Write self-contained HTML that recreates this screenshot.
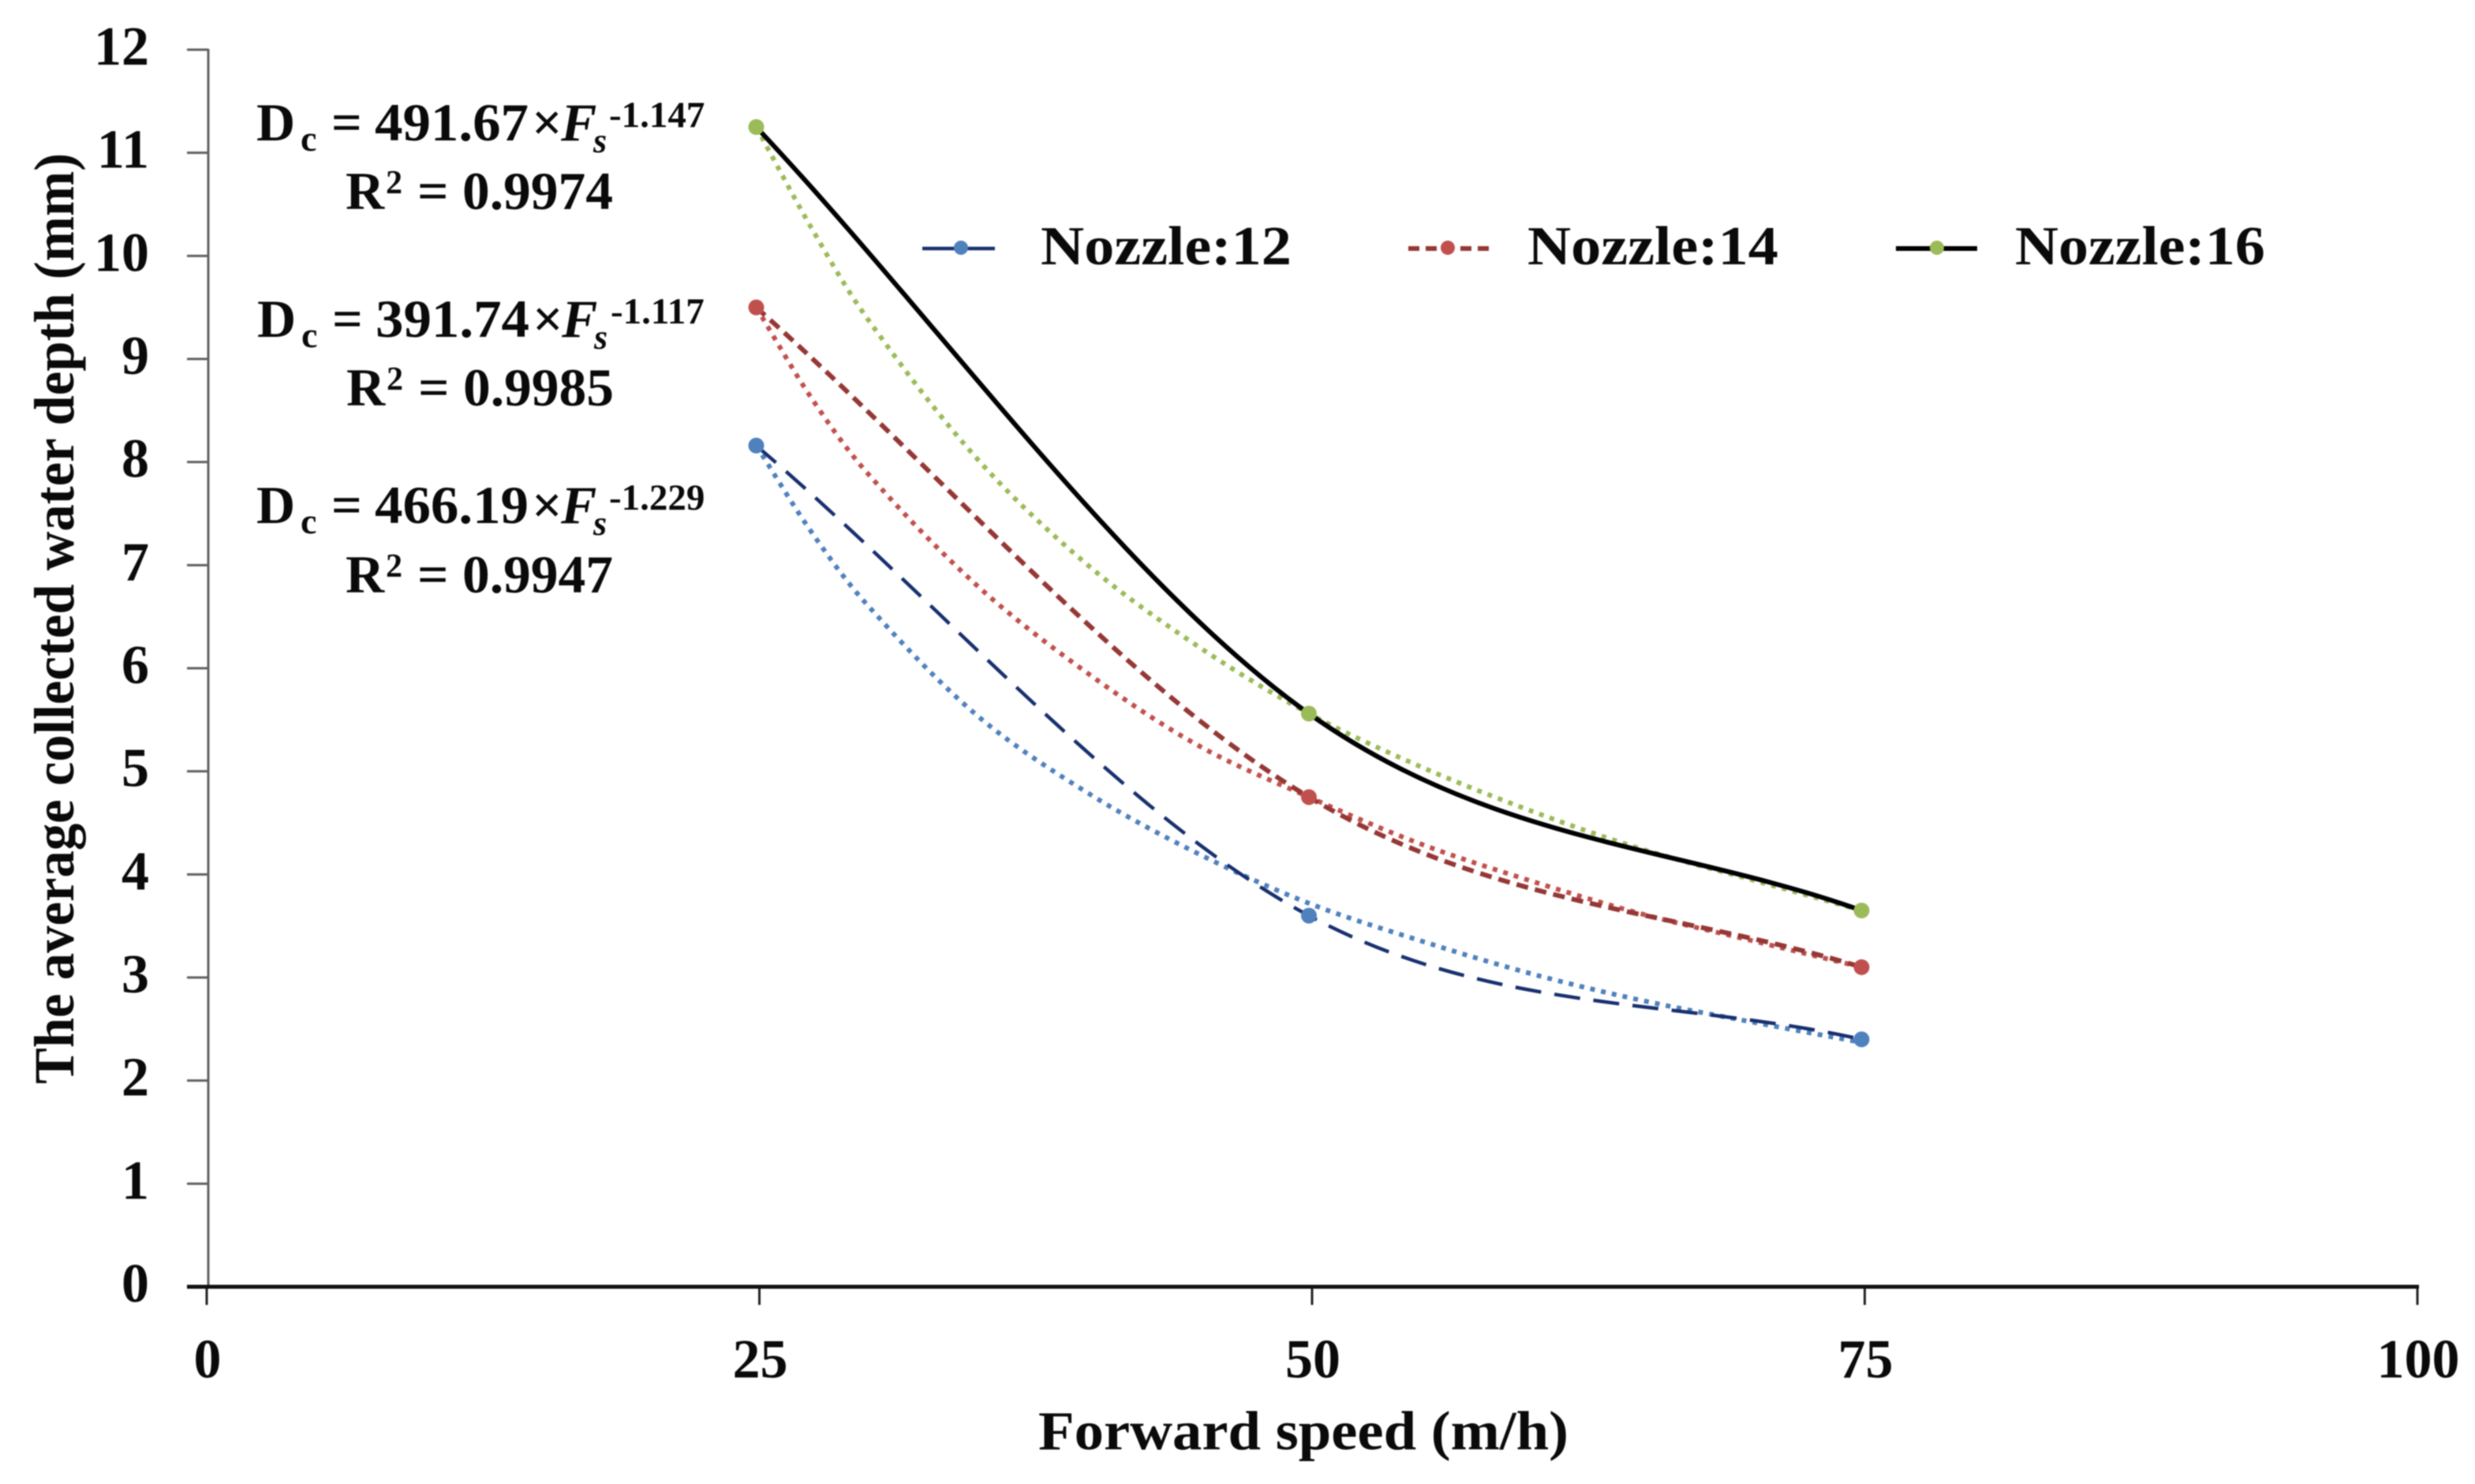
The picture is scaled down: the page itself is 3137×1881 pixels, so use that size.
<!DOCTYPE html>
<html lang="en">
<head>
<meta charset="utf-8">
<title>Average collected water depth vs forward speed</title>
<style>
html,body{margin:0;padding:0;background:#fff;}
svg{display:block;filter:blur(0.7px);}
text{font-family:"Liberation Serif",serif;font-weight:bold;fill:#0a0a0a;}
</style>
</head>
<body>
<svg id="chart" xmlns="http://www.w3.org/2000/svg" width="3137" height="1881" viewBox="0 0 3137 1881">
  <rect width="3137" height="1881" fill="#fff"/>
  <g id="axes"></g>
  <g id="trends"></g>
  <g id="lines"></g>
  <g id="markers"></g>

  <text transform="translate(93,1374) rotate(-90)" font-size="72" textLength="1180" lengthAdjust="spacingAndGlyphs">The average collected water depth (mm)</text>
  <text x="1316" y="1837" font-size="70" textLength="672" lengthAdjust="spacingAndGlyphs">Forward speed (m/h)</text>

  <g>
    <text font-size="68" y="178"><tspan x="325">D</tspan><tspan x="381" y="191" font-size="46">c</tspan><tspan x="420" y="178">=</tspan><tspan x="475" textLength="195" lengthAdjust="spacingAndGlyphs">491.67</tspan><tspan x="674">×</tspan><tspan x="711" font-style="italic">F</tspan><tspan x="752" y="193" font-size="44" font-style="italic">s</tspan><tspan x="772" y="161" font-size="47">-1.147</tspan></text>
    <text font-size="68" y="265"><tspan x="438">R</tspan><tspan x="489" y="245" font-size="42">2</tspan><tspan x="529" y="265" textLength="248" lengthAdjust="spacingAndGlyphs">= 0.9974</tspan></text>
  </g>
  <g>
    <text font-size="68" y="427"><tspan x="326">D</tspan><tspan x="382" y="440" font-size="46">c</tspan><tspan x="421" y="427">=</tspan><tspan x="476" textLength="195" lengthAdjust="spacingAndGlyphs">391.74</tspan><tspan x="675">×</tspan><tspan x="712" font-style="italic">F</tspan><tspan x="753" y="442" font-size="44" font-style="italic">s</tspan><tspan x="774" y="410" font-size="47">-1.117</tspan></text>
    <text font-size="68" y="514"><tspan x="439">R</tspan><tspan x="490" y="494" font-size="42">2</tspan><tspan x="530" y="514" textLength="248" lengthAdjust="spacingAndGlyphs">= 0.9985</tspan></text>
  </g>
  <g>
    <text font-size="68" y="663"><tspan x="325">D</tspan><tspan x="381" y="676" font-size="46">c</tspan><tspan x="420" y="663">=</tspan><tspan x="475" textLength="195" lengthAdjust="spacingAndGlyphs">466.19</tspan><tspan x="674">×</tspan><tspan x="711" font-style="italic">F</tspan><tspan x="752" y="678" font-size="44" font-style="italic">s</tspan><tspan x="772" y="646" font-size="47">-1.229</tspan></text>
    <text font-size="68" y="751"><tspan x="438">R</tspan><tspan x="489" y="731" font-size="42">2</tspan><tspan x="529" y="751" textLength="248" lengthAdjust="spacingAndGlyphs">= 0.9947</tspan></text>
  </g>

  <g>
    <g>
      <line x1="1169" y1="315" x2="1261" y2="315" stroke="#17306e" stroke-width="4.5"/>
      <circle cx="1218" cy="314" r="9" fill="#4f81bd"/>
      <text x="1319" y="335" font-size="70" textLength="318" lengthAdjust="spacingAndGlyphs">Nozzle:12</text>
    </g>
    <g>
      <line x1="1785" y1="315" x2="1891" y2="315" stroke="#953735" stroke-width="6" stroke-dasharray="14 8"/>
      <circle cx="1835" cy="314" r="9" fill="#c0504d"/>
      <text x="1936" y="335" font-size="70" textLength="318" lengthAdjust="spacingAndGlyphs">Nozzle:14</text>
    </g>
    <g>
      <line x1="2403" y1="315" x2="2506" y2="315" stroke="#000" stroke-width="6"/>
      <circle cx="2455" cy="314" r="9" fill="#9bbb59"/>
      <text x="2554" y="335" font-size="70" textLength="317" lengthAdjust="spacingAndGlyphs">Nozzle:16</text>
    </g>
  </g>
</svg>
<script>
// Chart data
const xTickValues = [0, 25, 50, 75, 100];
const yTickValues = [0, 1, 2, 3, 4, 5, 6, 7, 8, 9, 10, 11, 12];
const speeds = [25, 50, 75];
const nozzle12 = [8.16, 3.6, 2.4];
const nozzle14 = [9.5, 4.75, 3.1];
const nozzle16 = [11.25, 5.56, 3.65];
const trendSpeeds = [25, 27.5, 30, 35, 40, 45, 50, 55, 60, 65, 70, 75];
const trend12 = [8.16, 7.32, 6.62, 5.54, 4.79, 4.2, 3.72, 3.36, 3.04, 2.78, 2.57, 2.37];
const trend14 = [9.5, 8.62, 7.9, 6.8, 5.95, 5.25, 4.75, 4.3, 3.94, 3.62, 3.36, 3.1];
const trend16 = [11.25, 10.27, 9.4, 8.03, 7.0, 6.21, 5.56, 5.05, 4.62, 4.25, 3.95, 3.65];

const NS = 'http://www.w3.org/2000/svg';
const PLOT_LEFT = 262, PLOT_RIGHT = 3064, PLOT_BOTTOM = 1631, PLOT_TOP = 63;
const xScale = v => PLOT_LEFT + (v / 100) * (PLOT_RIGHT - PLOT_LEFT);
const yScale = v => PLOT_BOTTOM - (v / 12) * (PLOT_BOTTOM - PLOT_TOP);
const markX = v => xScale(v) - 4;

function mk(tag, parent, attrs) {
  const el = document.createElementNS(NS, tag);
  for (const k in attrs) el.setAttribute(k, attrs[k]);
  parent.appendChild(el);
  return el;
}

const axes = document.getElementById('axes');
const trends = document.getElementById('trends');
const lines = document.getElementById('lines');
const markers = document.getElementById('markers');

// Axes
const yAxisLine = mk('line', axes, {x1: 264, y1: PLOT_TOP - 1, x2: 264, y2: PLOT_BOTTOM, stroke: '#606060', 'stroke-width': 3});



yTickValues.forEach(v => {
  const tick = mk('line', axes, {x1: 237, y1: yScale(v), x2: 264, y2: yScale(v), stroke: '#606060', 'stroke-width': 3});
  
  
  const label = mk('text', axes, {x: 189, y: yScale(v) + 19, 'text-anchor': 'end', 'font-size': 70});
  
  
  label.textContent = v;
});

xTickValues.forEach(v => {
  const tick = mk('line', axes, {x1: xScale(v), y1: PLOT_BOTTOM, x2: xScale(v), y2: 1654, stroke: '#222', 'stroke-width': 3});
  
  
  const label = mk('text', axes, {x: xScale(v) + 1, y: 1746, 'text-anchor': 'middle', 'font-size': 70});
  
  
  label.textContent = v;
});

const xAxisLine = mk('line', axes, {x1: 237, y1: PLOT_BOTTOM, x2: PLOT_RIGHT + 2, y2: PLOT_BOTTOM, stroke: '#111', 'stroke-width': 5});



// Smoothed path (spreadsheet-style) through given points
function smoothPath(pts) {
  let d = 'M' + pts[0][0].toFixed(1) + ' ' + pts[0][1].toFixed(1);
  for (let i = 0; i < pts.length - 1; i++) {
    const p0 = pts[i], p1 = pts[i + 1];
    const prev = pts[i - 1], next = pts[i + 2];
    const seg = Math.hypot(p1[0] - p0[0], p1[1] - p0[1]);
    let c1, c2;
    if (prev) {
      const len = Math.hypot(p1[0] - prev[0], p1[1] - prev[1]);
      const k = pts.length > 3 ? seg / (3 * len) : 1 / 6;
      c1 = [p0[0] + (p1[0] - prev[0]) * k, p0[1] + (p1[1] - prev[1]) * k];
    } else {
      c1 = [p0[0] + (p1[0] - p0[0]) / 3, p0[1] + (p1[1] - p0[1]) / 3];
    }
    if (next) {
      const len = Math.hypot(next[0] - p0[0], next[1] - p0[1]);
      const k = pts.length > 3 ? seg / (3 * len) : 1 / 6;
      c2 = [p1[0] - (next[0] - p0[0]) * k, p1[1] - (next[1] - p0[1]) * k];
    } else {
      c2 = [p1[0] - (p1[0] - p0[0]) / 3, p1[1] - (p1[1] - p0[1]) / 3];
    }
    d += ' C' + c1[0].toFixed(1) + ' ' + c1[1].toFixed(1) + ' ' + c2[0].toFixed(1) + ' ' + c2[1].toFixed(1) + ' ' + p1[0].toFixed(1) + ' ' + p1[1].toFixed(1);
  }
  return d;
}

function toPoints(xs, ys) {
  return xs.map((x, i) => [markX(x), yScale(ys[i])]);
}

// Trendlines (dotted)
const trend12Path = mk('path', trends, {d: smoothPath(toPoints(trendSpeeds, trend12)), fill: 'none', stroke: '#4f81bd', 'stroke-width': 6, 'stroke-dasharray': '6 8'});


const trend14Path = mk('path', trends, {d: smoothPath(toPoints(trendSpeeds, trend14)), fill: 'none', stroke: '#c0504d', 'stroke-width': 6, 'stroke-dasharray': '6 8'});


const trend16Path = mk('path', trends, {d: smoothPath(toPoints(trendSpeeds, trend16)), fill: 'none', stroke: '#9bbb59', 'stroke-width': 6, 'stroke-dasharray': '6 8'});



// Series lines
const line12 = mk('path', lines, {d: smoothPath(toPoints(speeds, nozzle12)), fill: 'none', stroke: '#17306e', 'stroke-width': 4.5, 'stroke-dasharray': '33 17'});


const line14 = mk('path', lines, {d: smoothPath(toPoints(speeds, nozzle14)), fill: 'none', stroke: '#953735', 'stroke-width': 6, 'stroke-dasharray': '15 9'});


const line16 = mk('path', lines, {d: smoothPath(toPoints(speeds, nozzle16)), fill: 'none', stroke: '#000', 'stroke-width': 6});



// Markers
speeds.forEach((s, i) => {
  const m12 = mk('circle', markers, {cx: markX(s), cy: yScale(nozzle12[i]), r: 10, fill: '#4f81bd'});
  
  
  const m14 = mk('circle', markers, {cx: markX(s), cy: yScale(nozzle14[i]), r: 10, fill: '#c0504d'});
  
  
  const m16 = mk('circle', markers, {cx: markX(s), cy: yScale(nozzle16[i]), r: 10, fill: '#9bbb59'});
  
  
});
</script>
</body>
</html>
